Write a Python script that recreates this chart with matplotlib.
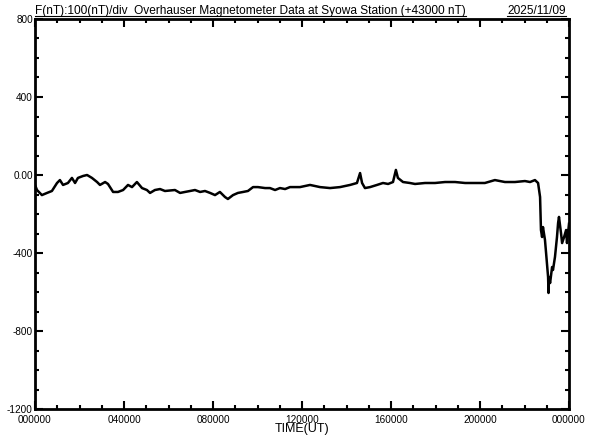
import numpy as np
import matplotlib
matplotlib.use('Agg')
import matplotlib.pyplot as plt
from matplotlib.ticker import MultipleLocator, FuncFormatter
from matplotlib.lines import Line2D

# time in hours UT, F deviation in nT (relative to 43000 nT)
hours = [0.00, 0.09, 0.31, 0.54, 0.76, 0.99, 1.12, 1.26, 1.48, 1.66, 1.80, 1.93,
         2.16, 2.34, 2.56, 2.79, 2.92, 3.15, 3.28, 3.51, 3.73, 3.96, 4.18, 4.36,
         4.58, 4.81, 5.03, 5.17, 5.39, 5.62, 5.84, 6.29, 6.52, 6.74, 6.97, 7.19,
         7.42, 7.64, 7.87, 8.09, 8.31, 8.54, 8.67, 8.90, 9.12, 9.35, 9.57, 9.80,
         10.02, 10.34, 10.56, 10.79, 11.01, 11.24, 11.46, 11.91, 12.36, 12.81,
         13.26, 13.71, 14.16, 14.47, 14.61, 14.70, 14.83, 15.06, 15.37, 15.64,
         15.87, 16.09, 16.22, 16.31, 16.54, 16.85, 17.08, 17.53, 17.98, 18.43,
         18.88, 19.33, 19.78, 20.22, 20.67, 21.12, 21.57, 22.02, 22.25, 22.47,
         22.61, 22.70, 22.74, 22.79, 22.83, 22.92, 22.97, 23.06, 23.08, 23.10,
         23.15, 23.24, 23.28, 23.37, 23.46, 23.51, 23.55, 23.64, 23.69, 23.78,
         23.87, 23.91, 24.00]
f_nt = [-51, -77, -103, -92, -82, -41, -26, -51, -41, -15, -41, -15,
        -5, 0, -15, -36, -51, -36, -46, -87, -87, -77, -51, -62,
        -36, -67, -77, -92, -77, -72, -82, -77, -92, -87, -82, -77,
        -87, -82, -92, -103, -87, -113, -123, -103, -92, -87, -82, -62,
        -62, -67, -67, -77, -67, -72, -62, -62, -51, -62, -67, -62,
        -51, -41, 10, -41, -67, -62, -51, -41, -46, -36, 26, -15,
        -36, -41, -46, -41, -41, -36, -36, -41, -41, -41, -26, -36,
        -36, -31, -36, -26, -41, -113, -282, -318, -267, -333, -400, -523,
        -605, -523, -554, -472, -487, -420, -318, -246, -215, -297, -349, -318,
        -282, -349, -250]

y_ticks = [-1200, -800, -400, 0, 400, 800]
title = 'F(nT):100(nT)/div  Overhauser Magnetometer Data at Syowa Station (+43000 nT)'
date = '2025/11/09'

plt.rcParams['font.family'] = ['Liberation Sans', 'DejaVu Sans']

fig = plt.figure(figsize=(5.92, 4.40), dpi=100)
ax = fig.add_axes([35/592, 1 - 409/440, 534/592, 390/440])

ax.plot(hours, f_nt, color='black', linewidth=1.8)

ax.set_xlim(0, 24)
ax.set_ylim(-1200, 800)

ax.xaxis.set_major_locator(MultipleLocator(4))
ax.xaxis.set_minor_locator(MultipleLocator(1))
ax.set_yticks(y_ticks)
ax.yaxis.set_minor_locator(MultipleLocator(100))

ax.xaxis.set_major_formatter(FuncFormatter(lambda v, p: '%02d0000' % (int(round(v)) % 24)))
ax.yaxis.set_major_formatter(FuncFormatter(lambda v, p: '0.00' if v == 0 else '%d' % v))

ax.tick_params(which='both', direction='in', top=True, right=True, labelsize=7.2)
ax.tick_params(axis='x', pad=4)
ax.tick_params(axis='y', pad=1.5)
ax.tick_params(which='major', length=6, width=1.5)
ax.tick_params(which='minor', length=3, width=1.5)

for s in ax.spines.values():
    s.set_linewidth(2)

ax.set_xlabel('TIME(UT)', fontsize=9, labelpad=-1)

t1 = fig.text(35/592, 1 - 14/440, title, fontsize=8.6, ha='left', va='baseline')
t2 = fig.text(566/592, 1 - 14/440, date, fontsize=8.6, ha='right', va='baseline')

# underline the header texts
fig.canvas.draw()
r = fig.canvas.get_renderer()
for t in (t1, t2):
    bb = t.get_window_extent(r).transformed(fig.transFigure.inverted())
    fig.add_artist(Line2D([bb.x0, bb.x1], [1 - 16/440, 1 - 16/440], color='black', linewidth=0.8))

fig.savefig('out.png', dpi=100)
